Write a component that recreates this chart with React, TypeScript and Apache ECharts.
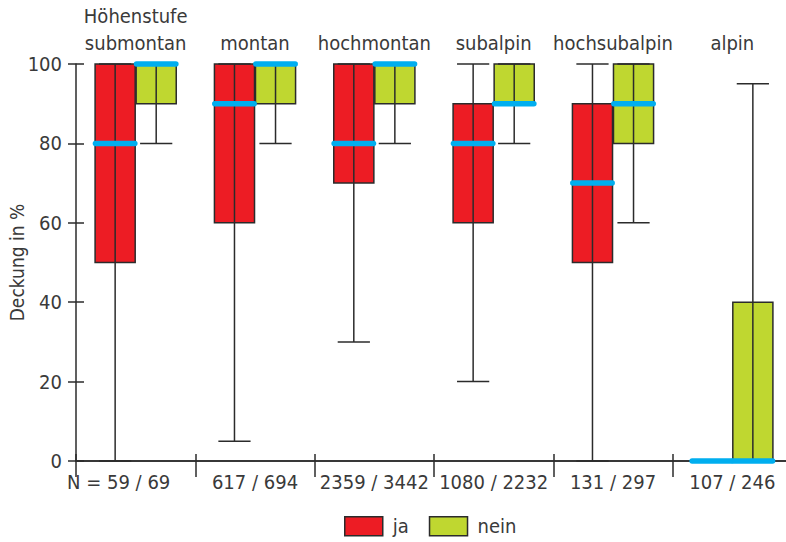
import React, { useEffect, useRef } from "react";
import * as echarts from "echarts";

const categories = ["submontan", "montan", "hochmontan", "subalpin", "hochsubalpin", "alpin"];
const topLabels = ["Höhenstufe\nsubmontan", "montan", "hochmontan", "subalpin", "hochsubalpin", "alpin"];
const nLabels = ["59 / 69", "617 / 694", "2359 / 3442", "1080 / 2232", "131 / 297", "107 / 246"];
const yTicks = [0, 20, 40, 60, 80, 100];

// [min, Q1, median, Q3, max]
const jaStats = [
  [0, 50, 80, 100, 100],
  [5, 60, 90, 100, 100],
  [30, 70, 80, 100, 100],
  [20, 60, 80, 90, 100],
  [0, 50, 70, 90, 100],
  [0, 0, 0, 0, 0],
];
const neinStats = [
  [80, 90, 100, 100, 100],
  [80, 90, 100, 100, 100],
  [80, 90, 100, 100, 100],
  [80, 90, 90, 100, 100],
  [60, 80, 90, 100, 100],
  [0, 0, 0, 40, 95],
];

const FONT = "'Liberation Sans Narrow','Arial Narrow','DejaVu Sans Condensed','Roboto',sans-serif";
const FS = 20;
const TEXT = "#3a3a3a";
const LINE = "#2b2b2b";
const RED = "#ED1C24";
const GREEN = "#BFD730";
const BLUE = "#00AEEF";

function boxRenderer(offsetFrac: number, color: string) {
  return (params: any, api: any) => {
    const xi = api.value(0);
    const pMin = api.coord([xi, api.value(1)]);
    const pQ1 = api.coord([xi, api.value(2)]);
    const pQ3 = api.coord([xi, api.value(4)]);
    const pMax = api.coord([xi, api.value(5)]);
    const band = api.size([1, 0])[0];
    const cx = pMin[0] + band * offsetFrac;
    const bw = band * 0.336;
    const cw = band * 0.27;
    const children: any[] = [];
    if (pQ1[1] - pQ3[1] > 0.5) {
      children.push({
        type: "rect",
        shape: { x: cx - bw / 2, y: pQ3[1], width: bw, height: pQ1[1] - pQ3[1] },
        style: { fill: color, stroke: LINE, lineWidth: 1.5 },
      });
    }
    if (pMin[1] - pMax[1] > 0.5) {
      children.push({
        type: "line",
        shape: { x1: cx, y1: pMin[1], x2: cx, y2: pMax[1] },
        style: { stroke: LINE, lineWidth: 1.5 },
      });
      children.push({
        type: "line",
        shape: { x1: cx - cw / 2, y1: pMin[1], x2: cx + cw / 2, y2: pMin[1] },
        style: { stroke: LINE, lineWidth: 1.5 },
      });
      children.push({
        type: "line",
        shape: { x1: cx - cw / 2, y1: pMax[1], x2: cx + cw / 2, y2: pMax[1] },
        style: { stroke: LINE, lineWidth: 1.5 },
      });
    }
    return { type: "group", children };
  };
}

function medianRenderer(offsetFrac: number) {
  return (params: any, api: any) => {
    const xi = api.value(0);
    const p = api.coord([xi, api.value(3)]);
    const band = api.size([1, 0])[0];
    const cx = p[0] + band * offsetFrac;
    const half = band * 0.165;
    return {
      type: "line",
      shape: { x1: cx - half, y1: p[1], x2: cx + half, y2: p[1] },
      style: { stroke: BLUE, lineWidth: 5.5, lineCap: "round" },
    };
  };
}

export default function App() {
  const ref = useRef<HTMLDivElement>(null);
  useEffect(() => {
    if (!ref.current) return;
    const chart = echarts.init(ref.current, null, { renderer: "svg" });
    const toData = (stats: number[][]) => stats.map((s, i) => [i, ...s]);
    const jaData = toData(jaStats);
    const neinData = toData(neinStats);
    const OFF = 0.172;
    chart.setOption({
      animation: false,
      textStyle: { fontFamily: FONT, color: TEXT },
      grid: { left: 76, right: -6, top: 64, bottom: 81, containLabel: false, outerBoundsMode: "none" },
      legend: {
        top: 516,
        left: 344,
        padding: 0,
        itemWidth: 38,
        itemHeight: 19,
        itemGap: 20,
        icon: "rect",
        textStyle: { fontFamily: FONT, fontSize: FS, color: TEXT, padding: [0, 0, 0, 5] },
        data: [
          { name: "ja", itemStyle: { color: RED, borderColor: LINE, borderWidth: 1.5 } },
          { name: "nein", itemStyle: { color: GREEN, borderColor: LINE, borderWidth: 1.5 } },
        ],
      },
      xAxis: [
        {
          type: "category",
          data: nLabels,
          position: "bottom",
          boundaryGap: true,
          axisLine: { show: true, lineStyle: { color: LINE, width: 1.5 } },
          axisTick: { show: true, length: 16, lineStyle: { color: LINE, width: 1.5 } },
          axisLabel: {
            interval: 0,
            margin: 11,
            fontFamily: FONT,
            fontSize: FS,
            color: TEXT,
            formatter: (v: string, i: number) => (i === 0 ? `{n|N =} ${v}{p|}` : v),
            rich: {
              n: { fontFamily: FONT, fontSize: FS, color: TEXT },
              p: { width: 34 },
            },
          },
          splitLine: { show: false },
        },
        {
          type: "category",
          data: topLabels,
          position: "top",
          boundaryGap: true,
          axisLine: { show: true, lineStyle: { color: LINE, width: 1.5 } },
          axisTick: { show: true, length: 7, lineStyle: { color: LINE, width: 1.5 } },
          axisLabel: {
            interval: 0,
            margin: 8,
            fontFamily: FONT,
            fontSize: FS,
            lineHeight: 27,
            color: TEXT,
          },
          splitLine: { show: false },
        },
      ],
      yAxis: [
        {
          type: "value",
          min: yTicks[0],
          max: yTicks[yTicks.length - 1],
          interval: 20,
          name: "Deckung in %",
          nameLocation: "middle",
          nameGap: 50,
          nameMoveOverlap: false,
          nameTextStyle: { fontFamily: FONT, fontSize: 19, color: TEXT },
          axisLine: { show: true, lineStyle: { color: LINE, width: 1.5 } },
          axisTick: { show: true, length: 8, lineStyle: { color: LINE, width: 1.5 } },
          axisLabel: { margin: 14, fontFamily: FONT, fontSize: FS, color: TEXT },
          splitLine: { show: false },
        },
        {
          type: "value",
          min: yTicks[0],
          max: yTicks[yTicks.length - 1],
          interval: 20,
          position: "left",
          axisLine: { show: false },
          axisTick: { show: true, inside: true, length: 8, lineStyle: { color: LINE, width: 1.5 } },
          axisLabel: { show: false },
          splitLine: { show: false },
        },
      ],
      series: [
        {
          name: "ja",
          type: "custom",
          xAxisIndex: 0,
          yAxisIndex: 0,
          renderItem: boxRenderer(-OFF, RED),
          encode: { x: 0, y: [1, 2, 3, 4, 5] },
          itemStyle: { color: RED },
          data: jaData,
          z: 2,
        },
        {
          name: "nein",
          type: "custom",
          xAxisIndex: 0,
          yAxisIndex: 0,
          renderItem: boxRenderer(OFF, GREEN),
          encode: { x: 0, y: [1, 2, 3, 4, 5] },
          itemStyle: { color: GREEN },
          data: neinData,
          z: 2,
        },
        {
          name: "ja Median",
          type: "custom",
          xAxisIndex: 0,
          yAxisIndex: 0,
          renderItem: medianRenderer(-OFF),
          encode: { x: 0, y: [3] },
          data: jaData,
          z: 5,
        },
        {
          name: "nein Median",
          type: "custom",
          xAxisIndex: 0,
          yAxisIndex: 0,
          renderItem: medianRenderer(OFF),
          encode: { x: 0, y: [3] },
          data: neinData,
          z: 5,
        },
      ],
    });
    return () => chart.dispose();
  }, []);
  return (
    <div
      ref={ref}
      style={{ position: "fixed", left: 0, top: 0, width: 786, height: 542, background: "#fff" }}
    />
  );
}
